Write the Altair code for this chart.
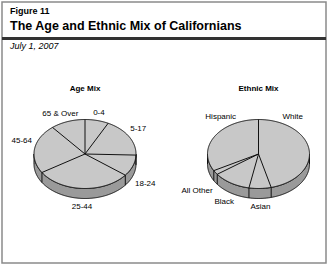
import altair as alt
import pandas as pd
import numpy as np

# ---- data ----
age_labels = ["0-4", "5-17", "18-24", "25-44", "45-64", "65 & Over"]
age_values = [7.5, 18, 10, 30.5, 23, 11]

eth_labels = ["White", "Asian", "Black", "All Other", "Hispanic"]
eth_values = [46, 7, 12, 2, 33]

fig_label = "Figure 11"
fig_title = "The Age and Ethnic Mix of Californians"
fig_date = "July 1, 2007"
pie_titles = ["Age Mix", "Ethnic Mix"]

# ---- layout (pixels) ----
W, H = 328, 265
RX, RY, TH = 51, 34.5, 10
CENTERS = [(85.0, 154.0), (258.5, 154.0)]
FONT = "Liberation Sans"
TOP_FILL = "#c8c8c8"
SIDE_FILL = "#9a9a9a"
EDGE = "#111111"

pies = [(pie_titles[0], age_labels, age_values), (pie_titles[1], eth_labels, eth_values)]

phi = np.linspace(0, np.pi, 241)
u = -np.cos(phi)
s = np.sqrt(np.clip(1 - u ** 2, 0, 1))

face_rows, side_rows, spoke_rows, edge_rows, label_rows, title_rows = [], [], [], [], [], []
for (title, labels, values), (cx, cy) in zip(pies, CENTERS):
    for ui, si in zip(u, s):
        x = cx + RX * ui
        face_rows.append(dict(pie=title, x=x, y=cy - RY * si, y2=cy + RY * si))
        side_rows.append(dict(pie=title, x=x, y=cy + RY * si, y2=cy + RY * si + TH))
    total = float(sum(values))
    fr = np.array(values) / total
    starts = np.concatenate([[0], np.cumsum(fr)[:-1]])
    ends = starts + fr
    for st in starts:
        t = st * 2 * np.pi
        ex, ey = cx + RX * np.sin(t), cy - RY * np.cos(t)
        spoke_rows.append(dict(pie=title, x=cx, y=cy, x2=ex, y2=ey))
        if np.cos(t) < -1e-6:
            edge_rows.append(dict(pie=title, x=ex, y=ey, y2=ey + TH))
    for lab, st, en, f in zip(labels, starts, ends, fr):
        if f > 0.25 and st == 0:
            a = 0.09
        elif f > 0.25 and abs(en - 1) < 1e-9:
            a = 1 - 0.09
        else:
            a = (st + en) / 2
        t = a * 2 * np.pi
        ex, ey = cx + RX * np.sin(t), cy - RY * np.cos(t)
        w = len(lab) * 4.4
        lx = ex + np.sin(t) * (w / 2 + 2)
        ly = ey + (TH + 8.5 if np.cos(t) < 0 else -7.5)
        label_rows.append(dict(pie=title, x=lx, y=ly, text=lab))
    title_rows.append(dict(x=cx, y=89, text=title))

xs = alt.Scale(domain=[0, W])
ys = alt.Scale(domain=[0, H], reverse=True)


def X(f="x"):
    return alt.X(f"{f}:Q", scale=xs, axis=None)


def Y(f="y"):
    return alt.Y(f"{f}:Q", scale=ys, axis=None, stack=None)


side = alt.Chart(pd.DataFrame(side_rows)).mark_area(
    fill=SIDE_FILL, stroke=EDGE, strokeWidth=1, opacity=1
).encode(x=X(), y=Y(), y2="y2:Q", detail="pie:N")

face = alt.Chart(pd.DataFrame(face_rows)).mark_area(
    fill=TOP_FILL, stroke=EDGE, strokeWidth=1, opacity=1
).encode(x=X(), y=Y(), y2="y2:Q", detail="pie:N")

edges = alt.Chart(pd.DataFrame(edge_rows)).mark_rule(color=EDGE, strokeWidth=1).encode(
    x=X(), y=Y(), y2="y2:Q"
)

spokes = alt.Chart(pd.DataFrame(spoke_rows)).mark_rule(color=EDGE, strokeWidth=1).encode(
    x=X(), y=Y(), x2="x2:Q", y2="y2:Q"
)

labels_layer = alt.Chart(pd.DataFrame(label_rows)).mark_text(
    font=FONT, fontSize=8, color="#000000", align="center", baseline="middle"
).encode(x=X(), y=Y(), text="text:N")

titles_layer = alt.Chart(pd.DataFrame(title_rows)).mark_text(
    font=FONT, fontSize=8, fontWeight="bold", color="#000000", align="center", baseline="middle"
).encode(x=X(), y=Y(), text="text:N")

one = pd.DataFrame({"k": [0]})
frame = alt.Chart(one).mark_rect(fillOpacity=0, stroke="#8a8a8a", strokeWidth=1.5).encode(
    x=alt.value(2), x2=alt.value(326), y=alt.value(2), y2=alt.value(263)
)
bar = alt.Chart(one).mark_rule(color="#333333", strokeWidth=3).encode(
    x=alt.value(2), x2=alt.value(326), y=alt.value(38.5)
)
t1 = alt.Chart(one).mark_text(font=FONT, fontSize=9, fontWeight="bold", align="left",
                              baseline="alphabetic", color="#000000").encode(
    x=alt.value(10), y=alt.value(13.5), text=alt.value(fig_label))
t2 = alt.Chart(one).mark_text(font=FONT, fontSize=12.5, fontWeight="bold", align="left",
                              baseline="alphabetic", color="#000000").encode(
    x=alt.value(10), y=alt.value(29.5), text=alt.value(fig_title))
t3 = alt.Chart(one).mark_text(font=FONT, fontSize=9, fontStyle="italic", align="left",
                              baseline="alphabetic", color="#000000").encode(
    x=alt.value(10), y=alt.value(48.5), text=alt.value(fig_date))

chart = alt.layer(
    frame, bar, t1, t2, t3, side, face, edges, spokes, labels_layer, titles_layer
).properties(width=W, height=H, padding=0, autosize="none").configure_view(stroke=None)

chart.save("out.html", embed_options={"renderer": "svg", "actions": False})
